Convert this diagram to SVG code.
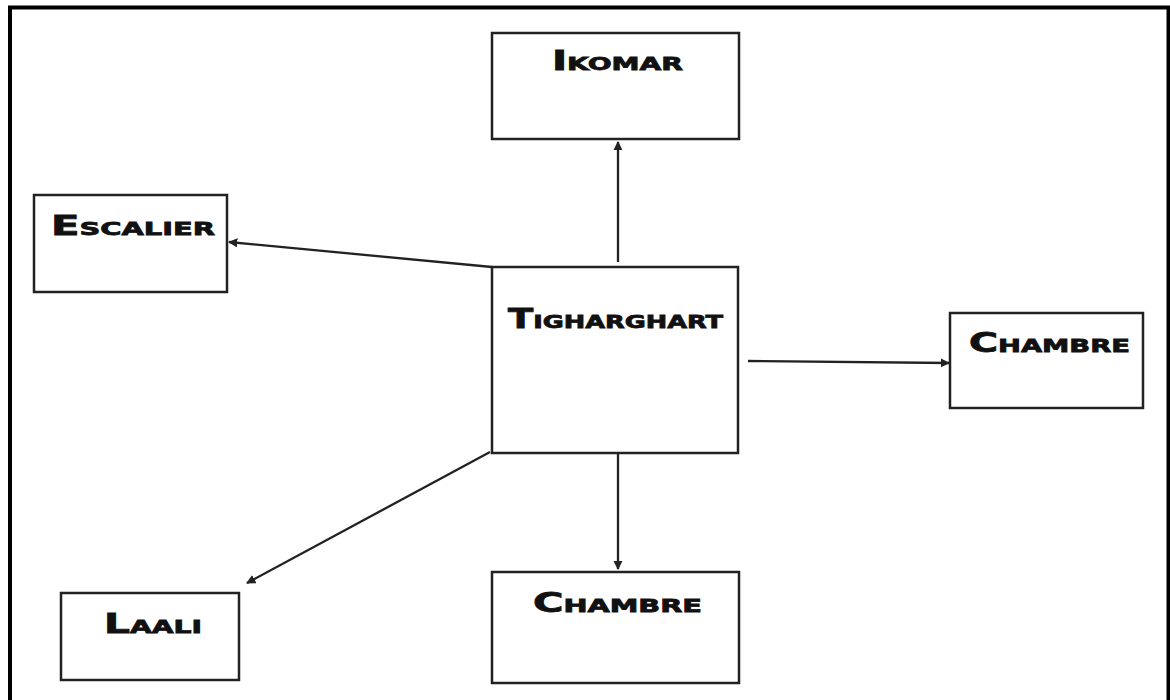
<svg xmlns="http://www.w3.org/2000/svg" width="1170" height="700" viewBox="0 0 1170 700">
<defs>
<style>
.box{fill:#fff;stroke:#222;stroke-width:2.5}
.lbl{font-family:"DejaVu Sans","Liberation Sans",sans-serif;font-weight:900;font-size:26px;font-variant:small-caps;fill:#111;stroke:#111;stroke-width:0.8}
.con{stroke:#222;stroke-width:2.3;fill:none;marker-end:url(#ah)}
</style>
<marker id="ah" viewBox="0 0 10 10" refX="9" refY="5" markerWidth="4" markerHeight="4" orient="auto" markerUnits="strokeWidth">
<path d="M0,0 L10,5 L0,10 z" fill="#222"/>
</marker>
</defs>
<rect width="1170" height="700" fill="#fff"/>
<path d="M10,700 V7.5 H1168.5 V700" fill="none" stroke="#000" stroke-width="4"/>
<g id="connectors">
<line class="con" x1="618" y1="262" x2="618" y2="142"/>
<line class="con" x1="492" y1="267" x2="229" y2="242"/>
<line class="con" x1="748" y1="361" x2="949" y2="363"/>
<line class="con" x1="618" y1="450" x2="618" y2="569"/>
<line class="con" x1="490" y1="452" x2="247" y2="583"/>
</g>
<g id="ikomar">
<rect class="box" x="492" y="33" width="247" height="106"/>
<text class="lbl" x="552" y="70" textLength="131" lengthAdjust="spacingAndGlyphs">Ikomar</text>
</g>
<g id="escalier">
<rect class="box" x="34" y="195" width="193" height="97"/>
<text class="lbl" x="51" y="235" textLength="164" lengthAdjust="spacingAndGlyphs">Escalier</text>
</g>
<g id="tigharghart">
<rect class="box" x="492" y="267" width="246" height="186"/>
<text class="lbl" x="508" y="328" textLength="215" lengthAdjust="spacingAndGlyphs">Tigharghart</text>
</g>
<g id="chambre-right">
<rect class="box" x="950" y="313" width="193" height="95"/>
<text class="lbl" x="969" y="352" textLength="161" lengthAdjust="spacingAndGlyphs">Chambre</text>
</g>
<g id="laali">
<rect class="box" x="61" y="593" width="178" height="87"/>
<text class="lbl" x="104" y="633" textLength="98" lengthAdjust="spacingAndGlyphs">Laali</text>
</g>
<g id="chambre-bottom">
<rect class="box" x="492" y="572" width="247" height="111"/>
<text class="lbl" x="533" y="612" textLength="169" lengthAdjust="spacingAndGlyphs">Chambre</text>
</g>
</svg>
